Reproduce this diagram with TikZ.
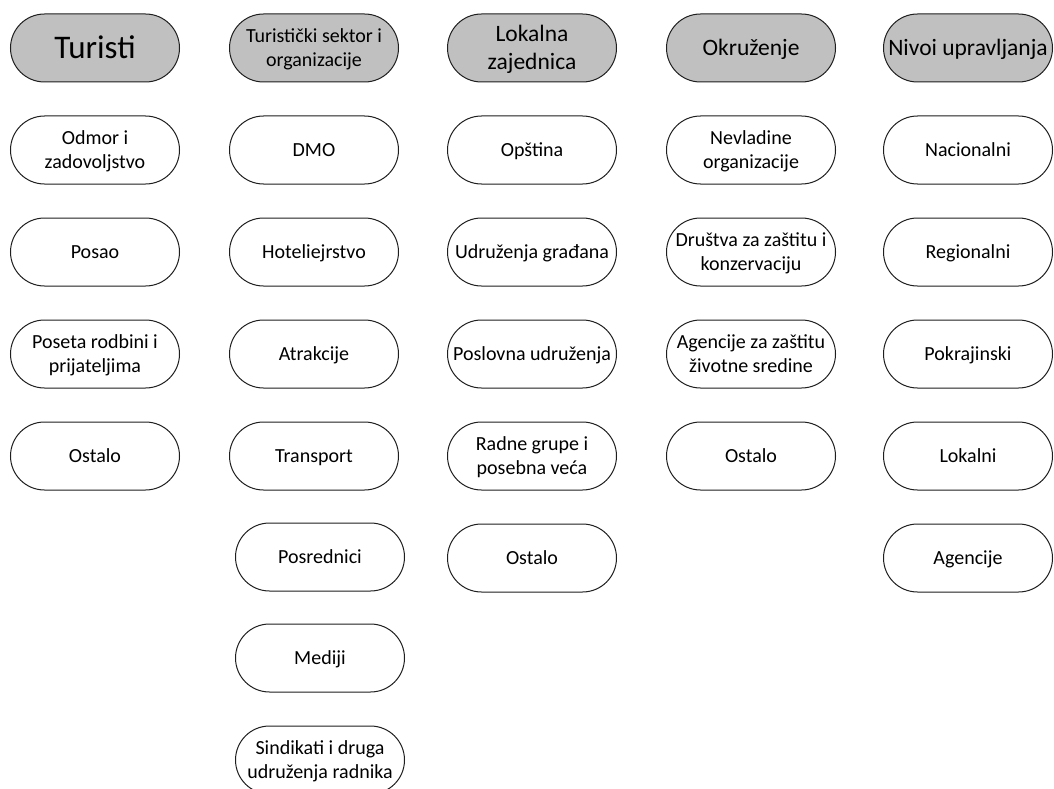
\documentclass[tikz,border=0pt]{standalone}
\usepackage{fontspec}
\setmainfont{Carlito}
\definecolor{hdrgray}{RGB}{192,192,192}
\definecolor{edge}{RGB}{30,30,30}
\newcommand{\bodyfont}{\fontsize{20}{24}\selectfont}
\newcommand{\midfont}{\fontsize{23.5}{28}\selectfont}
\newcommand{\bigfont}{\fontsize{33}{40}\selectfont}
% a strut that gives every line the same slot, centred on the letters
\newcommand{\sst}{\rule[-0.28em]{0pt}{1.2em}}
\newcommand{\one}[1]{\sst#1}
\newcommand{\two}[2]{{\renewcommand{\arraystretch}{0}%
  \begin{tabular}{@{}c@{}}\sst#1\\\sst#2\end{tabular}}}
\tikzset{
  pill/.style={draw=edge, line width=1pt, rectangle, rounded corners=34pt,
    minimum width=169pt, minimum height=68pt, inner sep=0pt,
    align=center, font=\bodyfont, fill=white},
  hdr/.style={pill, fill=hdrgray}
}
\begin{document}
\begin{tikzpicture}[x=1pt,y=-1pt]
\useasboundingbox (0,0) rectangle (1054,789);
% column headers
\node[hdr, font=\bigfont] (h1) at (95,48) {\one{Turisti}};
\node[hdr] (h2) at (314,48) {\two{Turistički sektor i}{organizacije}};
\node[hdr, font=\midfont] (h3) at (532,48) {\two{Lokalna}{zajednica}};
\node[hdr, font=\midfont] (h4) at (751,48) {\one{Okruženje}};
\node[hdr, font=\midfont] (h5) at (968,48) {\one{Nivoi upravljanja}};
% tourists
\node[pill] (a1) at (95,150) {\two{Odmor i}{zadovoljstvo}};
\node[pill] (a2) at (95,252) {\one{Posao}};
\node[pill] (a3) at (95,354) {\two{Poseta rodbini i}{prijateljima}};
\node[pill] (a4) at (95,456) {\one{Ostalo}};
% tourism sector
\node[pill] (b1) at (314,150) {\one{DMO}};
\node[pill] (b2) at (314,252) {\one{Hoteliejrstvo}};
\node[pill] (b3) at (314,354) {\one{Atrakcije}};
\node[pill] (b4) at (314,456) {\one{Transport}};
\node[pill] (b5) at (320,557) {\one{Posrednici}};
\node[pill] (b6) at (320,658) {\one{Mediji}};
\node[pill] (b7) at (320,760) {\two{Sindikati i druga}{udruženja radnika}};
% local community
\node[pill] (c1) at (532,150) {\one{Opština}};
\node[pill] (c2) at (532,252) {\one{Udruženja građana}};
\node[pill] (c3) at (532,354) {\one{Poslovna udruženja}};
\node[pill] (c4) at (532,456) {\two{Radne grupe i}{posebna veća}};
\node[pill] (c5) at (532,558) {\one{Ostalo}};
% environment
\node[pill] (d1) at (751,150) {\two{Nevladine}{organizacije}};
\node[pill] (d2) at (751,252) {\two{Društva za zaštitu i}{konzervaciju}};
\node[pill] (d3) at (751,354) {\two{Agencije za zaštitu}{životne sredine}};
\node[pill] (d4) at (751,456) {\one{Ostalo}};
% levels of governance
\node[pill] (e1) at (968,150) {\one{Nacionalni}};
\node[pill] (e2) at (968,252) {\one{Regionalni}};
\node[pill] (e3) at (968,354) {\one{Pokrajinski}};
\node[pill] (e4) at (968,456) {\one{Lokalni}};
\node[pill] (e5) at (968,558) {\one{Agencije}};
\end{tikzpicture}
\end{document}
